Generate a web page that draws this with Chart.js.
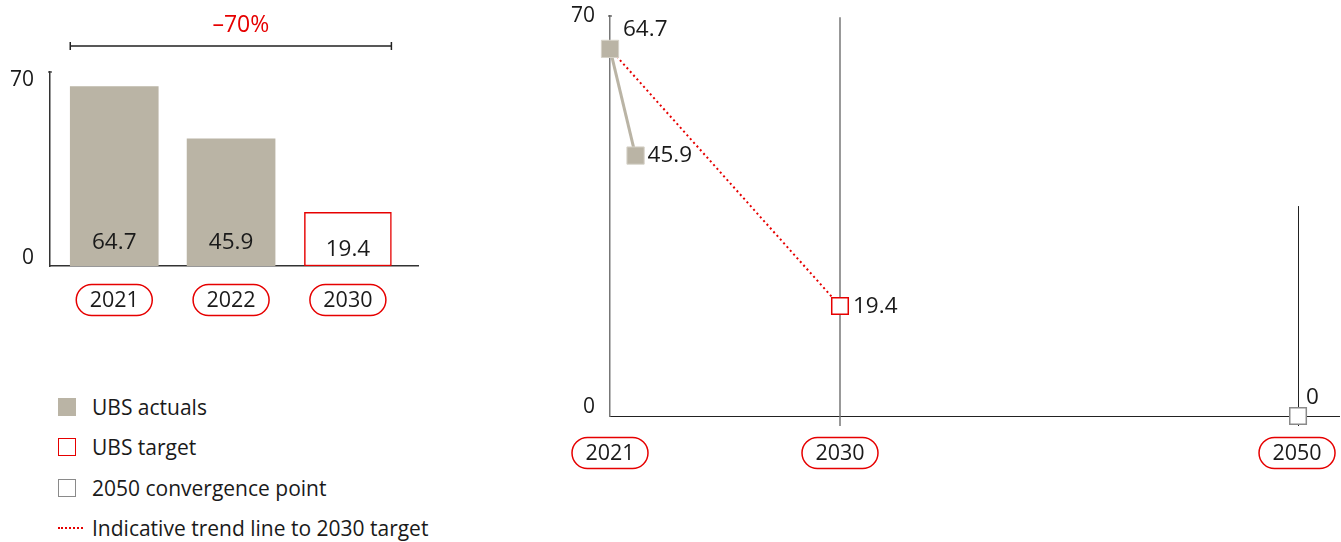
<!DOCTYPE html>
<html>
<head>
<meta charset="utf-8">
<script src="https://cdn.jsdelivr.net/npm/chart.js@4/dist/chart.umd.min.js"></script>
<style>
html,body{margin:0;padding:0;background:#fff;width:1341px;height:542px;overflow:hidden;font-family:'Open Sans',sans-serif;}
#leftWrap{position:absolute;left:0;top:0;width:440px;height:330px;}
#rightWrap{position:absolute;left:540px;top:0;width:801px;height:480px;}
.li{position:absolute;left:58px;height:26px;font-size:21px;line-height:26px;color:#1a1a1a;white-space:nowrap;display:flex;align-items:center;}
.sw{display:inline-block;width:18px;height:18px;box-sizing:border-box;margin-right:16px;}
.dot{display:inline-block;width:25px;height:0;border-top:2px dotted #e60000;margin-right:9px;}
</style>
</head>
<body>
<div id="leftWrap"><canvas id="leftChart"></canvas></div>
<div id="rightWrap"><canvas id="rightChart"></canvas></div>

<div class="li" style="top:394px"><span class="sw" style="background:#bab4a5"></span>UBS actuals</div>
<div class="li" style="top:434px"><span class="sw" style="border:1.5px solid #e60000;background:#fff"></span>UBS target</div>
<div class="li" style="top:475px"><span class="sw" style="border:1.5px solid #8a8a8a;background:#fff"></span>2050 convergence point</div>
<div class="li" style="top:515px"><span class="dot"></span>Indicative trend line to 2030 target</div>

<script>
// ---------- data ----------
const barCategories = ['2021', '2022', '2030'];
const barPositions = [0, 1, 2];
const barActuals = [64.7, 45.9, null];
const barTarget = [null, null, 19.4];
const barValueLabels = ['64.7', '45.9', '19.4'];
const yTickValues = [0, 70];
const changeLabel = '\u201370%';

const actualYears = [2021, 2022];
const actualValues = [64.7, 45.9];
const trendYears = [2021, 2030];
const trendValues = [64.7, 19.4];
const targetYears = [2030];
const targetValues = [19.4];
const convergenceYears = [2050];
const convergenceValues = [0];
const xTickYears = [2021, 2030, 2050];

// ---------- style ----------
const RED = '#e60000';
const BEIGE = '#bab4a5';
const TEXT = '#1a1a1a';
const FONT = '"Open Sans", sans-serif';
const VAL_FONT = '22.5px ' + FONT;

function pill(ctx, cx, cy, text) {
  const w = 76, h = 31, r = 15.5;
  const x = cx - w / 2, y = cy - h / 2;
  ctx.save();
  ctx.beginPath();
  ctx.moveTo(x + r, y);
  ctx.lineTo(x + w - r, y);
  ctx.arc(x + w - r, y + r, r, -Math.PI / 2, Math.PI / 2);
  ctx.lineTo(x + r, y + h);
  ctx.arc(x + r, y + r, r, Math.PI / 2, Math.PI * 1.5);
  ctx.closePath();
  ctx.strokeStyle = RED;
  ctx.lineWidth = 1.5;
  ctx.stroke();
  ctx.fillStyle = TEXT;
  ctx.font = '21.5px ' + FONT;
  ctx.textAlign = 'center';
  ctx.textBaseline = 'middle';
  ctx.fillText(text, cx, cy + 1);
  ctx.restore();
}

// ---------- left bar chart ----------
const leftPlugin = {
  id: 'leftDecor',
  afterDraw(chart) {
    const ctx = chart.ctx;
    const xs = chart.scales.x, ys = chart.scales.y;
    const area = chart.chartArea;
    const base = ys.getPixelForValue(0);
    ctx.save();
    // top tick on y axis
    ctx.strokeStyle = '#333'; ctx.lineWidth = 1.2;
    ctx.beginPath(); ctx.moveTo(area.left - 2, ys.getPixelForValue(70)); ctx.lineTo(area.left + 2, ys.getPixelForValue(70)); ctx.stroke();
    // y tick labels
    ctx.fillStyle = TEXT; ctx.font = '21px ' + FONT; ctx.textAlign = 'right'; ctx.textBaseline = 'middle';
    yTickValues.forEach(v => {
      const off = v === 0 ? -8 : 8;
      ctx.fillText(String(v), area.left - 16, ys.getPixelForValue(v) + off);
    });
    // value labels inside bars
    ctx.textAlign = 'center'; ctx.font = VAL_FONT;
    barCategories.forEach((c, i) => {
      const x = xs.getPixelForValue(barPositions[i]);
      const off = barActuals[i] != null ? 23 : 16;
      ctx.fillText(barValueLabels[i], x, base - off);
    });
    // bracket
    const m0 = chart.getDatasetMeta(0).data[0];
    const m2 = chart.getDatasetMeta(1).data[2];
    const l = m0.x - m0.width / 2, r = m2.x + m2.width / 2, by = 46;
    ctx.strokeStyle = '#222'; ctx.lineWidth = 1.5;
    ctx.beginPath();
    ctx.moveTo(l, by); ctx.lineTo(r, by);
    ctx.moveTo(l, by - 4); ctx.lineTo(l, by + 4);
    ctx.moveTo(r, by - 4); ctx.lineTo(r, by + 4);
    ctx.stroke();
    ctx.fillStyle = RED; ctx.font = '23px ' + FONT;
    ctx.fillText(changeLabel, (l + r) / 2 + 10, 25);
    ctx.restore();
    // category pills
    barCategories.forEach((c, i) => pill(ctx, xs.getPixelForValue(barPositions[i]), 300, c));
  }
};

new Chart(document.getElementById('leftChart'), {
  type: 'bar',
  data: {
    datasets: [
      {
        label: 'UBS actuals',
        data: barPositions.map((p, i) => ({ x: p, y: barActuals[i] })),
        backgroundColor: BEIGE,
        borderWidth: 0,
        barThickness: 88,
        grouped: false
      },
      {
        label: 'UBS target',
        data: barPositions.map((p, i) => ({ x: p, y: barTarget[i] })),
        backgroundColor: '#ffffff',
        borderColor: RED,
        borderWidth: 1.5,
        borderSkipped: false,
        barThickness: 87,
        grouped: false
      }
    ]
  },
  options: {
    responsive: true,
    maintainAspectRatio: false,
    animation: false,
    events: [],
    layout: { padding: { left: 50, right: 22, top: 72, bottom: 64 } },
    plugins: { legend: { display: false }, tooltip: { enabled: false } },
    scales: {
      x: {
        type: 'linear', min: -0.55, max: 2.6, offset: false,
        afterBuildTicks: s => { s.ticks = barPositions.map(v => ({ value: v })); },
        grid: { display: false, drawTicks: false, offset: false }, ticks: { display: false },
        border: { color: '#333', width: 1.5 }
      },
      y: {
        min: 0, max: 70,
        grid: { display: false, drawTicks: false }, ticks: { display: false },
        border: { color: '#333', width: 1.5 }
      }
    }
  },
  plugins: [leftPlugin]
});

// ---------- right line chart (broken year axis) ----------
const xBreaks = [[2021, 0], [2030, 0.3155], [2050, 0.9438]];
class PiecewiseScale extends Chart.LinearScale {
  getPixelForValue(value) {
    const b = xBreaks;
    let k = 0;
    while (k < b.length - 2 && value > b[k + 1][0]) k++;
    const [v0, d0] = b[k], [v1, d1] = b[k + 1];
    const dec = d0 + (value - v0) * (d1 - d0) / (v1 - v0);
    return this.getPixelForDecimal(dec);
  }
}
PiecewiseScale.id = 'piecewise';
PiecewiseScale.defaults = {};
Chart.register(PiecewiseScale);

const rightPlugin = {
  id: 'rightDecor',
  beforeDatasetsDraw(chart) {
    const ctx = chart.ctx;
    const xs = chart.scales.x, ys = chart.scales.y;
    const base = ys.getPixelForValue(0);
    ctx.save();
    // vertical reference lines
    ctx.strokeStyle = '#777'; ctx.lineWidth = 1.5;
    let x = xs.getPixelForValue(2030);
    ctx.beginPath(); ctx.moveTo(x, ys.getPixelForValue(70.3)); ctx.lineTo(x, base + 10); ctx.stroke();
    ctx.strokeStyle = '#222'; ctx.lineWidth = 1;
    x = Math.round(xs.getPixelForValue(2050)) + 0.5;
    ctx.beginPath(); ctx.moveTo(x, ys.getPixelForValue(37)); ctx.lineTo(x, base + 10); ctx.stroke();
    // top tick on y axis
    ctx.strokeStyle = '#555'; ctx.lineWidth = 1.2;
    const l = chart.chartArea.left, t = ys.getPixelForValue(70.5);
    ctx.beginPath(); ctx.moveTo(l - 2, t); ctx.lineTo(l + 2, t); ctx.stroke();
    ctx.restore();
  },
  afterDraw(chart) {
    const ctx = chart.ctx;
    const xs = chart.scales.x, ys = chart.scales.y;
    const area = chart.chartArea;
    ctx.save();
    ctx.fillStyle = TEXT; ctx.font = '21px ' + FONT; ctx.textBaseline = 'middle';
    // y tick labels
    ctx.textAlign = 'right';
    ctx.fillText('70', area.left - 15, ys.getPixelForValue(70) - 3);
    ctx.fillText('0', area.left - 15, ys.getPixelForValue(0) - 9);
    // point labels
    ctx.textAlign = 'left'; ctx.font = VAL_FONT;
    const lab = (xv, yv, dx, dy) => ctx.fillText(String(yv), xs.getPixelForValue(xv) + dx, ys.getPixelForValue(yv) + dy);
    lab(actualYears[0], actualValues[0], 13, -19);
    lab(actualYears[1], actualValues[1], 12, 0);
    lab(targetYears[0], targetValues[0], 13, 1);
    lab(convergenceYears[0], convergenceValues[0], 8, -18);
    ctx.restore();
    xTickYears.forEach(y => pill(ctx, xs.getPixelForValue(y) - (y === 2050 ? 1 : 0), 453, String(y)));
  }
};

new Chart(document.getElementById('rightChart'), {
  type: 'line',
  data: {
    datasets: [
      {
        label: 'UBS target',
        data: targetYears.map((y, i) => ({ x: y, y: targetValues[i] })),
        showLine: false,
        pointStyle: 'rect', pointRadius: 11.7,
        pointBackgroundColor: '#fff', pointBorderColor: RED, pointBorderWidth: 1.5,
        clip: false, order: 0
      },
      {
        label: '2050 convergence point',
        data: convergenceYears.map((y, i) => ({ x: y, y: convergenceValues[i] })),
        showLine: false,
        pointStyle: 'rect', pointRadius: 11.7,
        pointBackgroundColor: '#fff', pointBorderColor: '#8a8a8a', pointBorderWidth: 1.5,
        clip: false, order: 0
      },
      {
        label: 'UBS actuals',
        data: actualYears.map((y, i) => ({ x: y, y: actualValues[i] })),
        borderColor: BEIGE, borderWidth: 3,
        pointStyle: 'rect', pointRadius: 12.2,
        pointBackgroundColor: BEIGE, pointBorderColor: '#d6d2c8', pointBorderWidth: 1,
        clip: false, order: 1
      },
      {
        label: 'Indicative trend line to 2030 target',
        data: trendYears.map((y, i) => ({ x: y, y: trendValues[i] })),
        borderColor: RED, borderWidth: 2, borderDash: [2, 3],
        pointRadius: 0,
        clip: false, order: 2
      }
    ]
  },
  options: {
    responsive: true,
    maintainAspectRatio: false,
    animation: false,
    events: [],
    layout: { autoPadding: false, padding: { left: 70, right: 2, top: 16, bottom: 64 } },
    plugins: { legend: { display: false }, tooltip: { enabled: false } },
    scales: {
      x: {
        type: 'piecewise', min: 2021, max: 2052,
        grid: { display: false, drawTicks: false }, ticks: { display: false },
        border: { color: '#222', width: 1 }
      },
      y: {
        min: 0, max: 70.5,
        grid: { display: false, drawTicks: false }, ticks: { display: false },
        border: { color: '#777', width: 1.5 }
      }
    }
  },
  plugins: [rightPlugin]
});
</script>
</body>
</html>
